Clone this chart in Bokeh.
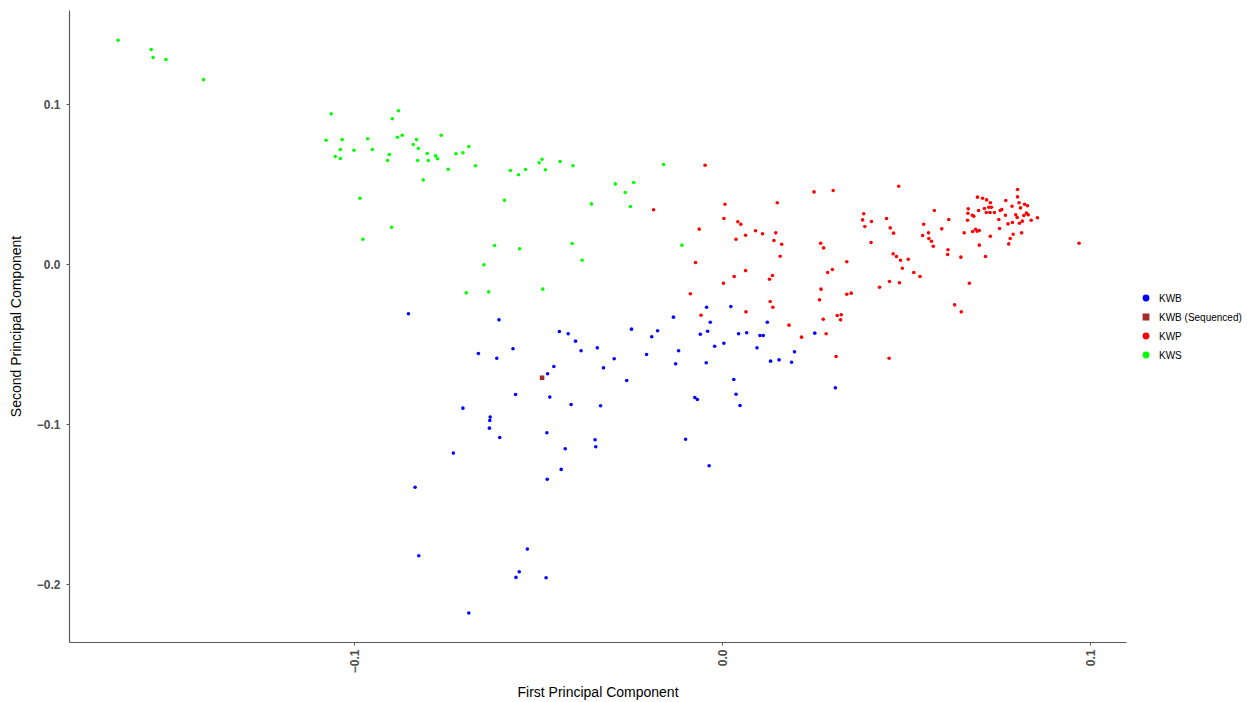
from bokeh.plotting import figure
from bokeh.models import Range1d, FixedTicker, Legend, LegendItem
from bokeh.embed import file_html
from bokeh.resources import INLINE
import math

# ---------------- data ----------------
categories = ["KWB", "KWB (Sequenced)", "KWP", "KWS"]
colors = ["#0000FF", "#A52A2A", "#FF0000", "#00FF00"]

kws_x = [-0.1642, -0.1552, -0.1547, -0.1512, -0.1410, -0.1063, -0.0880, -0.0897,
         -0.1077, -0.1033, -0.0964, -0.1038, -0.1001, -0.0951, -0.1052, -0.1038,
         -0.0883, -0.0870, -0.0831, -0.0840, -0.0826, -0.0764, -0.0905, -0.0910,
         -0.0828, -0.0802, -0.0799, -0.0779, -0.0774, -0.0724, -0.0705, -0.0689,
         -0.0671, -0.0745, -0.0813, -0.0985, -0.0899, -0.0977, -0.0576, -0.0554,
         -0.0535, -0.0498, -0.0490, -0.0481, -0.0441, -0.0406, -0.0592, -0.0160,
         -0.0291, -0.0241, -0.0264, -0.0250, -0.0356, -0.0619, -0.0551, -0.0408,
         -0.0381, -0.0110, -0.0648, -0.0696, -0.0635, -0.0488]
kws_y = [0.1402, 0.1344, 0.1294, 0.1281, 0.1156, 0.0942, 0.0961, 0.0911,
         0.0777, 0.0781, 0.0786, 0.0719, 0.0714, 0.0719, 0.0675, 0.0663,
         0.0796, 0.0808, 0.0781, 0.0750, 0.0725, 0.0808, 0.0688, 0.0650,
         0.0650, 0.0694, 0.0650, 0.0679, 0.0661, 0.0692, 0.0698, 0.0738,
         0.0617, 0.0596, 0.0529, 0.0414, 0.0233, 0.0158, 0.0588, 0.0561,
         0.0594, 0.0636, 0.0658, 0.0592, 0.0644, 0.0617, 0.0402, 0.0625,
         0.0504, 0.0513, 0.0450, 0.0363, 0.0379, 0.0119, 0.0098, 0.0131,
         0.0027, 0.0121, -0.0002, -0.0177, -0.0171, -0.0154]

kwb_x = [-0.0853, -0.0607, -0.0443, -0.0419, -0.0399, -0.0384, -0.0340, -0.0323,
         -0.0663, -0.0613, -0.0569, -0.0458, -0.0475, -0.0562, -0.0469, -0.0411,
         -0.0331, -0.0705, -0.0631, -0.0632, -0.0633, -0.0605, -0.0477, -0.0346,
         -0.0344, -0.0427, -0.0043, 0.0023, -0.0133, -0.0033, 0.0122, -0.0247,
         -0.0176, -0.0192, -0.0060, -0.0040, 0.0044, 0.0066, 0.0102, 0.0111,
         0.0251, 0.0004, -0.0021, -0.0294, -0.0206, -0.0119, -0.0127, -0.0044,
         0.0094, 0.0131, 0.0154, 0.0188, 0.0196, -0.0260, 0.0031, 0.0037,
         0.0048, -0.0075, -0.0068, -0.0100, -0.0036, 0.0307, -0.0731, -0.0835,
         -0.0438, -0.0476, -0.0825, -0.0530, -0.0552, -0.0561, -0.0479, -0.0689]
kwb_y = [-0.0308, -0.0346, -0.0419, -0.0433, -0.0479, -0.0539, -0.0521, -0.0646,
         -0.0556, -0.0586, -0.0527, -0.0638, -0.0683, -0.0813, -0.0829, -0.0875,
         -0.0883, -0.0898, -0.0954, -0.0975, -0.1023, -0.1081, -0.1052, -0.1096,
         -0.1139, -0.1152, -0.0267, -0.0263, -0.0329, -0.0361, -0.0361, -0.0404,
         -0.0414, -0.0452, -0.0436, -0.0417, -0.0433, -0.0427, -0.0444, -0.0444,
         -0.0429, -0.0492, -0.0511, -0.0589, -0.0563, -0.0539, -0.0621, -0.0614,
         -0.0521, -0.0604, -0.0596, -0.0611, -0.0546, -0.0725, -0.0719, -0.0811,
         -0.0881, -0.0831, -0.0844, -0.1092, -0.1258, -0.0771, -0.1179, -0.1392,
         -0.1281, -0.1342, -0.1821, -0.1779, -0.1921, -0.1956, -0.1958, -0.2179]

seq_x = [-0.0490]
seq_y = [-0.0708]

kwp_x = [-0.0187, -0.0063, -0.0073, -0.0087, -0.0058, 0.0130, 0.0137, 0.0064,
         0.0181, 0.0215, 0.0264, 0.0274, 0.0282, 0.0268, -0.0047, 0.0007,
         0.0004, 0.0042, 0.0050, 0.0090, 0.0109, 0.0063, 0.0037, 0.0145,
         0.0140, 0.0161, 0.0157, 0.0149, 0.0249, 0.0301, 0.0063, 0.0032,
         0.0003, 0.0136, 0.0128, 0.0267, 0.0275, 0.0338, 0.0299, 0.0286,
         0.0338, 0.0350, 0.0427, 0.0454, 0.0312, 0.0323, 0.0321, 0.0309,
         0.0453, 0.0384, 0.0381, 0.0387, 0.0405, 0.0446, 0.0456, 0.0404,
         0.0479, 0.0465, 0.0464, 0.0473, 0.0484, 0.0505, 0.0489, 0.0520,
         0.0537, 0.0481, 0.0576, 0.0547, 0.0544, 0.0560, 0.0561, 0.0568,
         0.0573, 0.0596, 0.0615, 0.0613, 0.0612, 0.0648, 0.0671, 0.0631,
         0.0649, 0.0657, 0.0666, 0.0668, 0.0667, 0.0679, 0.0683, 0.0693,
         0.0696, 0.0707, 0.0718, 0.0728, 0.0724, 0.0731, 0.0712, 0.0717,
         0.0727, 0.0739, 0.0680, 0.0688, 0.0692, 0.0698, 0.0698, 0.0728,
         0.0715, 0.0751, 0.0753, 0.0755, 0.0759, 0.0770, 0.0769, 0.0776,
         0.0787, 0.0788, 0.0790, 0.0782, 0.0778, 0.0802, 0.0802, 0.0797,
         0.0801, 0.0806, 0.0810, 0.0807, 0.0813, 0.0815, 0.0819, 0.0821,
         0.0829, 0.0826, 0.0831, 0.0839, 0.0856, 0.0969]
kwp_y = [0.0342, 0.0221, 0.0013, -0.0183, -0.0317, -0.0231, -0.0267, -0.0296,
         -0.0379, -0.0454, -0.0221, -0.0342, -0.0433, -0.0154, 0.0621, 0.0377,
         0.0288, 0.0267, 0.0252, 0.0211, 0.0192, 0.0183, 0.0158, 0.0198,
         0.0150, 0.0127, 0.0052, 0.0386, 0.0454, 0.0463, -0.0038, -0.0075,
         -0.0117, -0.0069, -0.0092, 0.0133, 0.0104, 0.0017, -0.0031, -0.0050,
         -0.0186, -0.0179, -0.0142, -0.0106, -0.0319, -0.0314, -0.0346, -0.0575,
         -0.0586, 0.0317, 0.0279, 0.0238, 0.0269, 0.0288, 0.0229, 0.0138,
         0.0489, 0.0196, 0.0067, 0.0050, 0.0027, 0.0033, -0.0023, -0.0050,
         -0.0075, -0.0114, 0.0338, 0.0252, 0.0181, 0.0198, 0.0163, 0.0146,
         0.0114, 0.0223, 0.0281, 0.0092, 0.0063, 0.0046, -0.0117, -0.0252,
         -0.0296, 0.0198, 0.0277, 0.0348, 0.0321, 0.0308, 0.0302, 0.0421,
         0.0338, 0.0414, 0.0404, 0.0386, 0.0358, 0.0358, 0.0350, 0.0325,
         0.0325, 0.0325, 0.0206, 0.0221, 0.0208, 0.0213, 0.0121, 0.0177,
         0.0050, 0.0281, 0.0225, 0.0338, 0.0344, 0.0400, 0.0308, 0.0254,
         0.0364, 0.0263, 0.0189, 0.0163, 0.0129, 0.0469, 0.0423, 0.0311,
         0.0294, 0.0386, 0.0354, 0.0258, 0.0198, 0.0271, 0.0306, 0.0377,
         0.0367, 0.0321, 0.0311, 0.0277, 0.0292, 0.0133]

x_ticks = [-0.1, 0.0, 0.1]
y_ticks = [-0.2, -0.1, 0.0, 0.1]
x_tick_labels = ["\u22120.1", "0.0", "0.1"]
y_tick_labels = ["\u22120.2", "\u22120.1", "0.0", "0.1"]

# ---------------- figure ----------------
FONT = "Liberation Sans"
p = figure(frame_width=1057, frame_height=632, output_backend="svg",
           toolbar_location=None,
           x_range=Range1d(-0.1774, 0.1098), y_range=Range1d(-0.2363, 0.1588),
           min_border_left=69, min_border_top=10, min_border_bottom=0,
           min_border_right=0)
p.outline_line_color = None
p.xgrid.visible = False
p.ygrid.visible = False
p.background_fill_color = "white"
p.border_fill_color = "white"

r_kwb = p.scatter(kwb_x, kwb_y, size=3.6, marker="circle", fill_color=colors[0], line_color=None)
r_kwp = p.scatter(kwp_x, kwp_y, size=3.6, marker="circle", fill_color=colors[2], line_color=None)
r_kws = p.scatter(kws_x, kws_y, size=3.6, marker="circle", fill_color=colors[3], line_color=None)
r_seq = p.scatter(seq_x, seq_y, size=4.6, marker="square", fill_color=colors[1], line_color=None)

for ax, ticks, labels in ((p.xaxis[0], x_ticks, x_tick_labels), (p.yaxis[0], y_ticks, y_tick_labels)):
    ax.ticker = FixedTicker(ticks=ticks, minor_ticks=[])
    ax.major_label_overrides = {t: l for t, l in zip(ticks, labels)}
    ax.axis_line_color = "#5a5a5a"
    ax.axis_line_width = 1.2
    ax.major_tick_line_color = "#5a5a5a"
    ax.major_tick_out = 3
    ax.major_tick_in = 0
    ax.minor_tick_line_color = None
    ax.major_label_text_font = FONT
    ax.major_label_text_font_size = "12px"
    ax.major_label_text_font_style = "bold"
    ax.major_label_text_color = "#4d4d4d"
    ax.axis_label_text_font = FONT
    ax.axis_label_text_font_size = "14px"
    ax.axis_label_text_font_style = "normal"
    ax.axis_label_text_color = "#000000"

p.xaxis.axis_label = "First Principal Component"
p.yaxis.axis_label = "Second Principal Component"
p.xaxis.major_label_orientation = math.pi / 2
p.xaxis.major_label_standoff = 4
p.xaxis.axis_label_standoff = 8
p.yaxis.major_label_standoff = 6
p.yaxis.axis_label_standoff = 10

legend = Legend(items=[LegendItem(label=categories[0], renderers=[r_kwb]),
                       LegendItem(label=categories[1], renderers=[r_seq]),
                       LegendItem(label=categories[2], renderers=[r_kwp]),
                       LegendItem(label=categories[3], renderers=[r_kws])],
                location="center_left", orientation="vertical")
legend.label_text_font = FONT
legend.label_text_font_size = "10px"
legend.label_text_color = "#000000"
legend.glyph_width = 17
legend.glyph_height = 18
legend.spacing = 1
legend.padding = 2
legend.margin = 11
legend.label_standoff = 5
legend.border_line_color = None
legend.background_fill_alpha = 0
p.add_layout(legend, "right")

open("out.html", "w").write(file_html(p, INLINE))
